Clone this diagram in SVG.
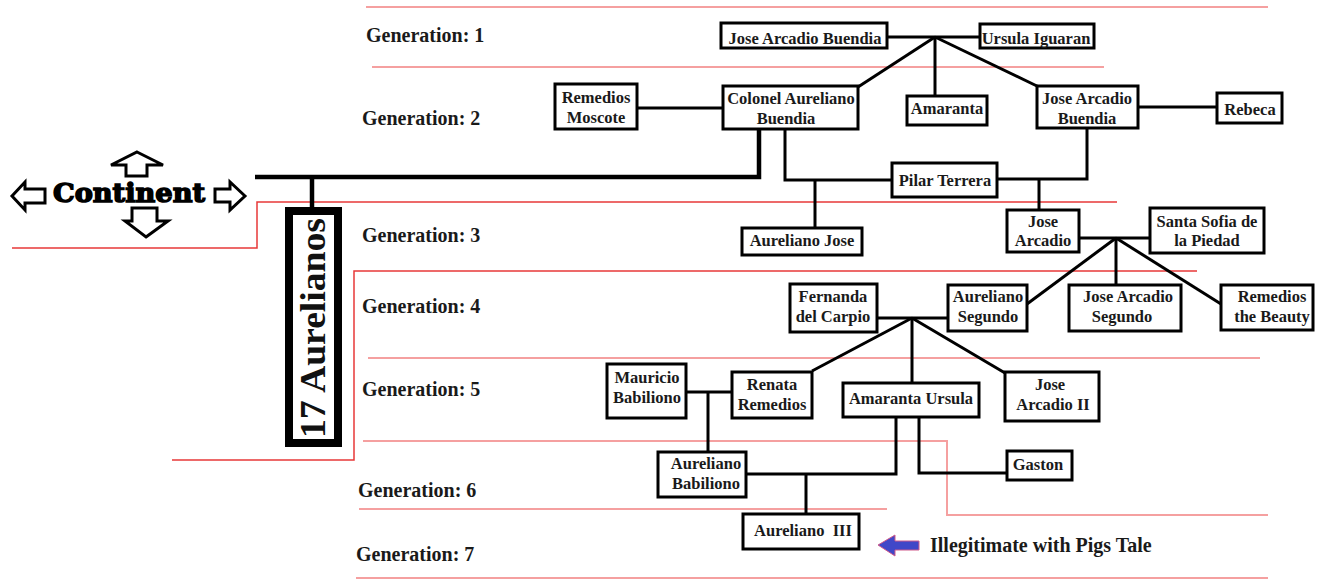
<svg xmlns="http://www.w3.org/2000/svg" width="1324" height="582" viewBox="0 0 1324 582">
<style>
.bg{fill:#fff}
.gl{fill:none;stroke:#f5a0a0;stroke-width:2}
.rl{fill:none;stroke:#e83838;stroke-width:1.5}
.box{fill:#fff;stroke:#000;stroke-width:3}
.c{fill:none;stroke:#000;stroke-width:3}
.ct{fill:none;stroke:#000;stroke-width:4.5}
.t{font-family:"Liberation Serif","Times New Roman",serif;font-weight:bold;font-size:16.5px;fill:#1a1a1a;text-anchor:middle}
.g{font-family:"Liberation Serif","Times New Roman",serif;font-weight:bold;font-size:20px;fill:#1a1a1a}
.oa{fill:#fff;stroke:#000;stroke-width:3;stroke-linejoin:miter}
</style>
<rect class="bg" x="0" y="0" width="1324" height="582"/>
<g id="generation-lines">
<line class="gl" x1="366" y1="7" x2="1268" y2="7"/>
<line class="gl" x1="372" y1="67" x2="1104" y2="67"/>
<polyline class="rl" points="12,248 257,248 257,202 1117,202"/>
<polyline class="rl" points="172,460 354,460 354,271 1197,271"/>
<line class="gl" x1="368" y1="358" x2="1260" y2="358"/>
<polyline class="gl" points="363,441 947,441 947,515 1268,515"/>
<line class="gl" x1="359" y1="509" x2="887" y2="509"/>
<line class="gl" x1="356" y1="578" x2="1268" y2="578"/>
</g>
<g id="generation-labels">
<text class="g" x="366" y="42">Generation: 1</text>
<text class="g" x="362" y="125">Generation: 2</text>
<text class="g" x="362" y="242">Generation: 3</text>
<text class="g" x="362" y="313">Generation: 4</text>
<text class="g" x="362" y="396">Generation: 5</text>
<text class="g" x="358" y="497">Generation: 6</text>
<text class="g" x="356" y="561">Generation: 7</text>
</g>
<g id="connectors">
<line class="c" x1="887" y1="37" x2="980" y2="37"/>
<line class="c" x1="935" y1="37" x2="858" y2="87"/>
<line class="c" x1="935" y1="37" x2="935" y2="96"/>
<line class="c" x1="935" y1="37" x2="1039" y2="87"/>
<line class="c" x1="637" y1="108" x2="723" y2="108"/>
<line class="c" x1="1138" y1="107" x2="1217" y2="107"/>
<polyline class="ct" points="255,177 759,177 759,129"/>
<line class="ct" x1="312" y1="177" x2="312" y2="208"/>
<polyline class="c" points="785,129 785,180 892,180"/>
<line class="c" x1="815" y1="180" x2="815" y2="228"/>
<polyline class="c" points="1087,128 1087,179 997,179"/>
<line class="c" x1="1039" y1="179" x2="1039" y2="210"/>
<line class="c" x1="1079" y1="238" x2="1150" y2="238"/>
<line class="c" x1="1116" y1="238" x2="1027" y2="304"/>
<line class="c" x1="1116" y1="238" x2="1116" y2="285"/>
<line class="c" x1="1116" y1="238" x2="1221" y2="304"/>
<line class="c" x1="877" y1="318" x2="948" y2="318"/>
<line class="c" x1="912" y1="318" x2="812" y2="371"/>
<line class="c" x1="912" y1="318" x2="912" y2="383"/>
<line class="c" x1="912" y1="318" x2="1005" y2="373"/>
<line class="c" x1="686" y1="392" x2="732" y2="392"/>
<line class="c" x1="708" y1="392" x2="708" y2="452"/>
<polyline class="c" points="896,417 896,474 746,474"/>
<line class="c" x1="806" y1="474" x2="806" y2="514"/>
<polyline class="c" points="919,417 919,473 1007,473"/>
</g>
<g id="continent">
<path class="oa" d="M137,152 L163,165 L147,165 L147,176 L126,176 L126,165 L111,165 Z"/>
<path class="oa" d="M146,237 L168,221 L157,221 L157,208 L132,208 L132,221 L125,221 Z"/>
<path class="oa" d="M12,196 L25,182 L25,189 L45,189 L45,203 L25,203 L25,210 Z"/>
<path class="oa" d="M245,196 L230,182 L230,189 L215,189 L215,202 L230,202 L230,210 Z"/>
<text x="53" y="202" font-family="'DejaVu Serif',serif" font-weight="900" font-size="26" fill="#000" stroke="#000" stroke-width="1.5" textLength="152" lengthAdjust="spacingAndGlyphs">Continent</text>
</g>
<g id="aurelianos">
<rect x="289" y="211" width="49" height="232" fill="#fff" stroke="#000" stroke-width="8"/>
<text transform="translate(325,328) rotate(-90)" text-anchor="middle" font-family="'Liberation Serif','Times New Roman',serif" font-weight="bold" font-size="36" fill="#111" textLength="220" lengthAdjust="spacingAndGlyphs">17 Aurelianos</text>
</g>
<g id="jose-arcadio-buendia"><rect class="box" x="721" y="23" width="166" height="25"/><text class="t" x="805" y="44">Jose Arcadio Buendia</text></g>
<g id="ursula-iguaran"><rect class="box" x="980" y="24" width="114" height="24"/><text class="t" x="1036" y="44">Ursula Iguaran</text></g>
<g id="remedios-moscote"><rect class="box" x="555" y="84" width="82" height="45"/><text class="t" x="596" y="103">Remedios</text><text class="t" x="596" y="123">Moscote</text></g>
<g id="colonel-aureliano-buendia"><rect class="box" x="723" y="86" width="135" height="43"/><text class="t" x="791" y="104">Colonel Aureliano</text><text class="t" x="786" y="124">Buendia</text></g>
<g id="amaranta"><rect class="box" x="907" y="96" width="80" height="29"/><text class="t" x="947" y="114">Amaranta</text></g>
<g id="jose-arcadio-buendia-2"><rect class="box" x="1037" y="86" width="101" height="42"/><text class="t" x="1087" y="104">Jose Arcadio</text><text class="t" x="1087" y="124">Buendia</text></g>
<g id="rebeca"><rect class="box" x="1217" y="93" width="65" height="30"/><text class="t" x="1250" y="115">Rebeca</text></g>
<g id="pilar-terrera"><rect class="box" x="892" y="163" width="105" height="34"/><text class="t" x="945" y="186">Pilar Terrera</text></g>
<g id="aureliano-jose"><rect class="box" x="742" y="228" width="120" height="27"/><text class="t" x="802" y="246">Aureliano Jose</text></g>
<g id="jose-arcadio"><rect class="box" x="1007" y="210" width="72" height="42"/><text class="t" x="1043" y="227">Jose</text><text class="t" x="1043" y="246">Arcadio</text></g>
<g id="santa-sofia"><rect class="box" x="1150" y="208" width="114" height="45"/><text class="t" x="1207" y="227">Santa Sofia de</text><text class="t" x="1207" y="246">la Piedad</text></g>
<g id="fernanda"><rect class="box" x="790" y="284" width="87" height="48"/><text class="t" x="833" y="302">Fernanda</text><text class="t" x="833" y="322">del Carpio</text></g>
<g id="aureliano-segundo"><rect class="box" x="948" y="285" width="79" height="46"/><text class="t" x="988" y="302">Aureliano</text><text class="t" x="988" y="322">Segundo</text></g>
<g id="jose-arcadio-segundo"><rect class="box" x="1069" y="285" width="112" height="46"/><text class="t" x="1128" y="302">Jose Arcadio</text><text class="t" x="1122" y="322">Segundo</text></g>
<g id="remedios-beauty"><rect class="box" x="1221" y="285" width="92" height="45"/><text class="t" x="1272" y="302">Remedios</text><text class="t" x="1272" y="322">the Beauty</text></g>
<g id="mauricio"><rect class="box" x="607" y="364" width="79" height="54"/><text class="t" x="647" y="383">Mauricio</text><text class="t" x="647" y="403">Babiliono</text></g>
<g id="renata"><rect class="box" x="732" y="372" width="80" height="46"/><text class="t" x="772" y="390">Renata</text><text class="t" x="772" y="410">Remedios</text></g>
<g id="amaranta-ursula"><rect class="box" x="843" y="383" width="136" height="34"/><text class="t" x="911" y="404">Amaranta Ursula</text></g>
<g id="jose-arcadio-ii"><rect class="box" x="1005" y="372" width="94" height="49"/><text class="t" x="1050" y="390">Jose</text><text class="t" x="1053" y="410">Arcadio II</text></g>
<g id="aureliano-babiliono"><rect class="box" x="658" y="452" width="88" height="45"/><text class="t" x="706" y="469">Aureliano</text><text class="t" x="706" y="489">Babiliono</text></g>
<g id="gaston"><rect class="box" x="1007" y="451" width="65" height="29"/><text class="t" x="1038" y="470">Gaston</text></g>
<g id="aureliano-iii"><rect class="box" x="743" y="514" width="116" height="35"/><text class="t" x="803" y="536" xml:space="preserve">Aureliano  III</text></g>
<g id="note">
<path d="M878,545 L895,535 L895,541 L919,541 L919,550 L895,550 L895,556 Z" fill="#4047c8" stroke="#d05a8a" stroke-width="1"/>
<text class="g" x="930" y="552">Illegitimate with Pigs Tale</text>
</g>
</svg>
